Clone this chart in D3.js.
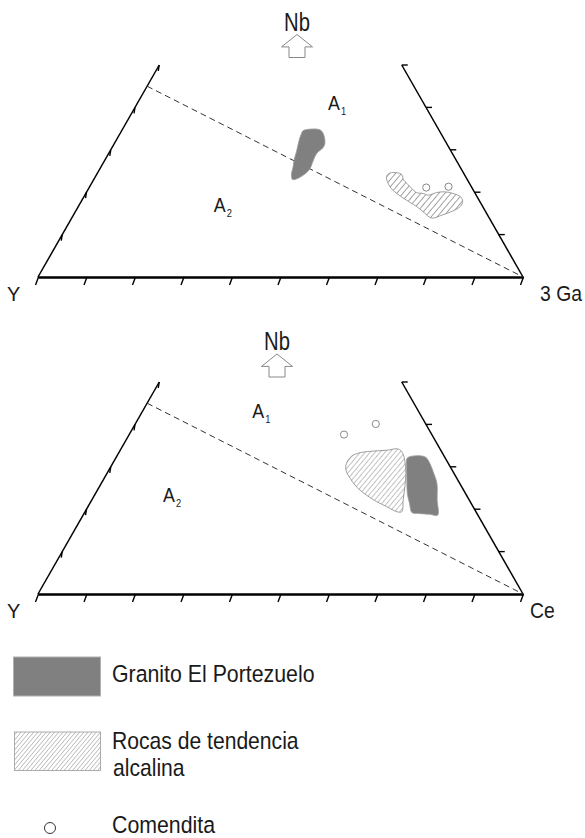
<!DOCTYPE html>
<html><head><meta charset="utf-8">
<script src="https://cdn.jsdelivr.net/npm/d3@7"></script>
<style>html,body{margin:0;padding:0;background:#fff}svg{display:block}</style>
</head><body>
<svg id="chart" width="585" height="838"></svg>
<script>
// Ternary compositions in percent: [Nb, Y, third apex (3Ga or Ce)]
const gridTicks = [0,10,20,30,40,50,60,70,80,90,100];
const sideTicks = [0,10,20,30,40,50];
const apexLabel = "Nb";
const vertexLabels1 = ["Y","3 Ga"];
const vertexLabels2 = ["Y","Ce"];
const divisionLine = [[45,55,0],[0,0,100]];
const fieldNames = ["A","A"];
const fieldSubs = ["1","2"];
const fieldPos1 = [[39.4,20.5,40.1],[15.3,56.1,28.6]];
const fieldPos2 = [[41.5,35.1,23.4],[21.7,63.4,14.9]];

const granito1 = [[34.5,28.1,37.4],[34.9,26.1,39.0],[34.7,24.5,40.8],[33.7,24.3,42.0],[31.5,25.1,43.4],[30.4,26.1,43.5],[29.2,27.9,42.9],[27.6,29.4,43.0],[25.6,31.1,43.3],[24.5,32.5,43.0],[23.3,34.7,42.0],[23.0,36.0,41.0],[24.1,35.7,40.2],[26.0,34.4,39.6],[27.6,33.4,39.0],[29.6,31.9,38.5],[32.3,30.0,37.7],[33.9,28.7,37.4]];
const alcalina1 = [[23.7,16.3,60.0],[24.5,15.2,60.3],[24.6,13.7,61.7],[24.1,12.9,63.0],[22.9,13.2,63.9],[22.1,12.9,65.0],[20.9,12.5,66.6],[19.9,12.0,68.1],[19.7,10.7,69.6],[19.3,9.9,70.8],[19.9,7.9,72.2],[20.1,6.1,73.8],[19.7,4.6,75.7],[18.9,3.4,77.7],[17.9,3.5,78.6],[16.7,4.5,78.8],[15.6,6.6,77.8],[14.6,9.4,76.0],[13.9,11.9,74.2],[15.4,12.9,71.7],[16.6,13.6,69.8],[17.8,14.7,67.5],[18.9,15.6,65.5],[20.1,16.4,63.5],[21.3,16.8,61.9],[22.5,16.7,60.8]];
const comendita1 = [[21.1,9.4,69.5],[21.3,4.7,74.0]];

const granito2 = [[32.0,7.9,60.1],[32.5,6.7,60.8],[32.6,4.9,62.5],[32.2,3.9,63.9],[30.8,3.8,65.4],[28.8,4.1,67.1],[26.1,4.7,69.2],[22.2,6.6,71.2],[18.6,8.3,73.1],[18.8,9.8,71.4],[19.0,12.1,68.9],[19.2,13.3,67.5],[21.4,12.7,65.9],[23.7,12.0,64.3],[26.9,10.5,62.6],[30.0,9.0,61.0]];
const alcalina2 = [[30.8,21.0,48.2],[32.5,19.1,48.4],[33.3,17.0,49.7],[33.7,14.1,52.2],[33.9,11.2,54.9],[34.2,8.6,57.2],[33.3,8.2,58.5],[31.3,8.7,60.0],[28.5,9.9,61.6],[25.3,11.7,63.0],[22.2,13.6,64.2],[19.4,15.3,65.3],[19.4,16.3,64.3],[20.6,17.8,61.6],[21.8,19.3,58.9],[23.3,20.6,56.1],[25.3,21.7,53.0],[27.3,22.0,50.7],[29.2,21.9,48.9]];
const comendita2 = [[37.6,18.1,44.3],[40.1,10.3,49.6]];

const legendLabels = ["Granito El Portezuelo", "Rocas de tendencia", "alcalina", "Comendita"];

const FONT = "'Liberation Sans', Arial, sans-serif";
const svg = d3.select("#chart");
const defs = svg.append("defs");

function hatch(id, size, color, width) {
  const p = defs.append("pattern").attr("id", id).attr("patternUnits", "userSpaceOnUse")
    .attr("width", size).attr("height", size).attr("patternTransform", "rotate(40)");
  p.append("rect").attr("width", size).attr("height", size).attr("fill", "#fff");
  p.append("line").attr("x1", 0).attr("y1", 0).attr("x2", 0).attr("y2", size)
    .attr("stroke", color).attr("stroke-width", width);
}
hatch("hatch1", 4.6, "#333", 0.9);
hatch("hatch2", 3.8, "#555", 0.7);
hatch("hatchL", 3.2, "#555", 0.65);

const x = d3.scaleLinear().domain([0, 100]).range([38, 523]);

function label(g, str, px, py, size, sx, anchor, fill) {
  return g.append("text")
    .attr("transform", `translate(${px},${py}) scale(${sx},1)`)
    .attr("text-anchor", anchor || "start")
    .attr("font-family", FONT).attr("font-size", size)
    .attr("fill", fill || "#1a1a1a").text(str);
}

function drawPanel(base, vertexLabels, fieldPos, granito, alcalina, comendita, hatchId, nbX, nbY, arrowTop) {
  const y = d3.scaleLinear().domain([0, 100]).range([base, base - 424]);
  const proj = d => [x(d[2] + d[0] / 2), y(d[0])];
  const g = svg.append("g");

  // base axis
  const axis = d3.axisBottom(x).tickValues(gridTicks).tickFormat("").tickSizeOuter(0).tickSizeInner(0);
  const gb = g.append("g").attr("transform", `translate(0,${base})`).call(axis);
  gb.select(".domain").attr("stroke", "#000").attr("stroke-width", 2.6);
  gb.selectAll(".tick line").attr("x1", 0).attr("y1", 0).attr("x2", -3).attr("y2", 8)
    .attr("stroke", "#000").attr("stroke-width", 1.4);

  // sides
  const lineGen = d3.line();
  g.append("path").attr("d", lineGen([proj([0,100,0]), proj([50,50,0])]))
    .attr("stroke", "#000").attr("stroke-width", 1.5).attr("fill", "none");
  g.append("path").attr("d", lineGen([proj([0,0,100]), proj([50,0,50])]))
    .attr("stroke", "#000").attr("stroke-width", 1.5).attr("fill", "none");
  sideTicks.forEach(v => {
    const p = proj([v, 100 - v, 0]);
    if (v > 0) g.append("line").attr("x1", p[0]).attr("y1", p[1]).attr("x2", p[0] - 1).attr("y2", p[1] + 6)
      .attr("stroke", "#000").attr("stroke-width", 1.4);
    const q = proj([v, 0, 100 - v]);
    if (v > 0) g.append("line").attr("x1", q[0]).attr("y1", q[1]).attr("x2", q[0] + 6).attr("y2", q[1])
      .attr("stroke", "#000").attr("stroke-width", 1.4);
  });

  // division line
  g.append("path").attr("d", lineGen(divisionLine.map(proj)))
    .attr("stroke", "#333").attr("stroke-width", 1).attr("stroke-dasharray", "6,4").attr("fill", "none");

  // fields
  const shape = d3.line().curve(d3.curveCatmullRomClosed.alpha(0.5));
  g.append("path").attr("d", shape(alcalina.map(proj)))
    .attr("fill", `url(#${hatchId})`).attr("stroke", "#888").attr("stroke-width", 0.8);
  g.append("path").attr("d", shape(granito.map(proj)))
    .attr("fill", "#808080").attr("stroke", "#9a9a9a").attr("stroke-width", 0.8);
  g.selectAll("circle.com").data(comendita).enter().append("circle")
    .attr("cx", d => proj(d)[0]).attr("cy", d => proj(d)[1]).attr("r", 3.6)
    .attr("fill", "#fff").attr("stroke", "#888").attr("stroke-width", 1);

  // field labels
  fieldPos.forEach((d, i) => {
    const p = proj(d);
    label(g, fieldNames[i], p[0], p[1], 21, 0.85);
    label(g, fieldSubs[i], p[0] + 13, p[1] + 5, 11, 0.85);
  });

  // vertex labels
  label(g, vertexLabels[0], 7, base + 24, 21, 0.95);
  label(g, vertexLabels[1], vertexLabels[1] === "Ce" ? 530 : 540, base + 24, 22, 0.88);

  // apex label and arrow
  label(g, apexLabel, nbX, nbY, 25, 0.81, "middle");
  const cx = nbX, t = arrowTop;
  const arrow = [[cx, t], [cx + 15.5, t + 12.4], [cx + 8, t + 12.4], [cx + 8, t + 23], [cx - 8, t + 23], [cx - 8, t + 12.4], [cx - 15.5, t + 12.4]];
  g.append("path").attr("d", d3.line()(arrow) + "Z").attr("fill", "#fff").attr("stroke", "#888").attr("stroke-width", 1);
}

drawPanel(277, vertexLabels1, fieldPos1, granito1, alcalina1, comendita1, "hatch1", 297, 31, 34.5);
drawPanel(594, vertexLabels2, fieldPos2, granito2, alcalina2, comendita2, "hatch2", 277, 350, 354);

// legend
const lg = svg.append("g");
lg.append("rect").attr("x", 13.5).attr("y", 657).attr("width", 87).attr("height", 39)
  .attr("fill", "#808080").attr("stroke", "#b0b0b0").attr("stroke-width", 1);
lg.append("rect").attr("x", 14.5).attr("y", 732).attr("width", 86).attr("height", 38.5)
  .attr("fill", "url(#hatchL)").attr("stroke", "#999").attr("stroke-width", 0.8);
lg.append("circle").attr("cx", 50).attr("cy", 828).attr("r", 5.5)
  .attr("fill", "#fff").attr("stroke", "#333").attr("stroke-width", 1);
label(lg, legendLabels[0], 112, 682, 24.5, 0.87);
label(lg, legendLabels[1], 112, 749, 24, 0.88);
label(lg, legendLabels[2], 113, 776, 24, 0.88);
label(lg, legendLabels[3], 112, 833, 24.5, 0.87);
</script>
</body></html>
